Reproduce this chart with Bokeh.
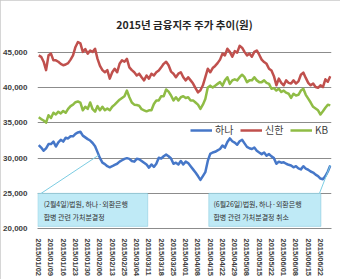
from bokeh.plotting import figure
from bokeh.models import (Range1d, FixedTicker, NumeralTickFormatter, Legend,
                          LegendItem, Label, BoxAnnotation)
from bokeh.embed import file_html
from bokeh.resources import INLINE

title_text = "2015년 금융지주 주가 추이(원)"

tick_labels = ["2015/01/02", "2015/01/09", "2015/01/16", "2015/01/23", "2015/01/30",
               "2015/02/06", "2015/02/13", "2015/02/25", "2015/03/04", "2015/03/11",
               "2015/03/18", "2015/03/25", "2015/04/01", "2015/04/08", "2015/04/15",
               "2015/04/22", "2015/04/29", "2015/05/08", "2015/05/15", "2015/05/22",
               "2015/06/01", "2015/06/08", "2015/06/15", "2015/06/22"]

series_names = ["하나", "신한", "KB"]

hana = [31860, 31500, 31050, 31400, 32000, 32000, 32350, 31650, 32250, 32600,
        32350, 32900, 32800, 33100, 33100, 33450, 33650, 33750, 33200, 32950,
        32700, 32500, 32150, 31700, 30850, 30000, 29350, 29150, 28850, 28700,
        28850, 29050, 29200, 29500, 29700, 29900, 30000, 29900, 29600, 29500,
        29900, 29850, 29600, 29350, 29100, 28650, 29100, 28750, 29200, 30050,
        29950, 30270, 30500, 30270, 29950, 29200, 29350, 29100, 29600, 29100,
        29500, 29300, 28850, 28400, 27950, 27450, 26900, 27450, 28000, 29600,
        30600, 30800, 30900, 31100, 31300, 31800, 31500, 32300, 32800, 32400,
        32200, 31900, 32400, 32600, 32100, 31600, 31400, 31300, 31500, 31050,
        30800, 30570, 30800, 30350, 30570, 30250, 30000, 29200, 29500, 29350,
        29400, 29200, 29050, 28950, 28700, 28850, 28550, 28400, 28850, 28500,
        28350, 28100, 27950, 27650, 27450, 27100, 27000, 27450, 28100, 28950]

shinhan = [44600, 44400, 43700, 42500, 44600, 44850, 43900, 43900, 43700, 43400,
           43200, 43300, 43500, 44000, 44600, 45800, 46500, 46300, 45100, 45500,
           44850, 45300, 45100, 45550, 44100, 43100, 42500, 42200, 42500, 41300,
           42200, 42700, 42200, 43400, 43900, 43700, 44100, 42900, 42500, 42200,
           41750, 42000, 41500, 41050, 41750, 41300, 42000, 41750, 42200, 42450,
           42900, 43400, 43700, 43200, 42300, 42000, 41500, 42000, 42200, 41500,
           41050, 41500, 41050, 40600, 39950, 39350, 39650, 40350, 41500, 42700,
           42200, 42800, 43100, 43500, 44000, 44850, 44600, 45550, 45100, 44400,
           45200, 45000, 45950, 45700, 45100, 44600, 44850, 44400, 45100, 45300,
           44700, 44000, 43650, 43400, 42700, 42450, 41650, 40350, 41300, 40700,
           40350, 41050, 40700, 40600, 41050, 40600, 40900, 41850, 42150, 41400,
           40700, 40350, 40600, 40100, 40000, 40350, 40100, 41200, 40850, 41650]

kb = [35800, 35550, 35350, 35050, 36100, 35700, 36450, 36200, 36600, 36350,
      36700, 36450, 37000, 37400, 37600, 37950, 38050, 37900, 36800, 37300,
      37000, 37900, 36950, 36600, 37400, 36800, 37300, 36800, 37050, 36800,
      37300, 37600, 37950, 38300, 38550, 38800, 39600, 38650, 37900, 37600,
      37550, 37450, 36950, 36800, 36650, 36800, 36800, 37700, 38200, 38200,
      38800, 38800, 39750, 39450, 38900, 38200, 38650, 38200, 38650, 38800,
      38550, 38650, 38200, 38200, 37900, 37600, 37000, 37600, 38400, 40050,
      40300, 40050, 40300, 40550, 40800, 40300, 41050, 41500, 40550, 41050,
      41200, 41050, 41500, 41850, 41500, 40800, 41050, 41050, 41500, 41050,
      40800, 40800, 41050, 40700, 40550, 39850, 39950, 39600, 39850, 39400,
      39600, 39300, 39150, 38550, 39150, 38900, 39000, 39600, 39850, 39000,
      38450, 37900, 37300, 37050, 36800, 36200, 36650, 37150, 37600, 37500]

note1 = ["(2월4일)법원, 하나·외환은행", "합병 관련 가처분결정"]
note2 = ["(6월26일)법원, 하나·외환은행", "합병 관련 가처분결정 취소"]

n = len(hana)
xs = list(range(n))
KFONT = "Noto Sans CJK KR"

p = figure(width=340, height=279, output_backend="svg", toolbar_location=None,
           x_range=Range1d(-0.5, n - 0.5), y_range=Range1d(20000, 47000),
           min_border_left=37, min_border_right=9, min_border_top=38,
           min_border_bottom=51, background_fill_color="white",
           border_fill_color="white", outline_line_color=None)

p.title.text = title_text
p.title.align = "center"
p.title.text_font = KFONT
p.title.text_font_size = "10.5px"
p.title.text_font_style = "bold"
p.title.text_color = "#262626"
p.title.standoff = 13
p.title.offset = -14

# axes
p.yaxis.ticker = FixedTicker(ticks=[20000, 25000, 30000, 35000, 40000, 45000])
p.yaxis.formatter = NumeralTickFormatter(format="0,0")
p.yaxis.axis_line_color = None
p.yaxis.major_tick_line_color = None
p.yaxis.minor_tick_line_color = None
p.yaxis.major_label_standoff = 4
p.yaxis.major_label_text_font = "Liberation Sans"
p.yaxis.major_label_text_font_style = "bold"
p.yaxis.major_label_text_font_size = "8px"
p.yaxis.major_label_text_color = "#404040"

tick_pos = list(range(0, n, 5))[:len(tick_labels)]
p.xaxis.ticker = FixedTicker(ticks=tick_pos)
p.xaxis.major_label_overrides = {t: lab for t, lab in zip(tick_pos, tick_labels)}
p.xaxis.major_label_orientation = "vertical"
p.xaxis.axis_line_color = "#8c8c8c"
p.xaxis.major_tick_line_color = None
p.xaxis.minor_tick_line_color = None
p.xaxis.major_label_standoff = 4
p.xaxis.major_label_text_font = "Liberation Sans"
p.xaxis.major_label_text_font_style = "bold"
p.xaxis.major_label_text_font_size = "7.5px"
p.xaxis.major_label_text_color = "#404040"

p.xgrid.grid_line_color = None
p.ygrid.grid_line_color = "#8c8c8c"
p.ygrid.grid_line_width = 1

r_hana = p.line(xs, hana, line_color="#4677c8", line_width=2.5, line_join="round")
r_shin = p.line(xs, shinhan, line_color="#c0504d", line_width=2.5, line_join="round")
r_kb = p.line(xs, kb, line_color="#8fbc45", line_width=2.5, line_join="round")

legend = Legend(items=[LegendItem(label=series_names[0], renderers=[r_hana]),
                       LegendItem(label=series_names[1], renderers=[r_shin]),
                       LegendItem(label=series_names[2], renderers=[r_kb])],
                orientation="horizontal", location=(153, 91), padding=0, margin=0,
                spacing=5, label_standoff=3, glyph_width=22, glyph_height=12,
                label_height=12, border_line_color=None, background_fill_alpha=0,
                label_text_font=KFONT, label_text_font_size="10px",
                label_text_color="#404040")
p.add_layout(legend)

# callout pointers (anchored on the data)
p.segment(x0=[24.5], y0=[(hana[24] + hana[25]) / 2], x1=[1.0], y1=[25000],
          line_color="#7ccde3", line_width=1)
p.segment(x0=[n - 1], y0=[hana[-1]], x1=[114.6], y1=[25000],
          line_color="#7ccde3", line_width=1)

for left, right in [(-0.4, 44.5), (69.4, 115.2)]:
    p.add_layout(BoxAnnotation(left=left, right=right, bottom=20300, top=25000,
                               fill_color="#bfeaf6", fill_alpha=1,
                               line_color="#4aa8c8", line_width=1))

for xpos, lines in [(2.0, note1), (71.3, note2)]:
    for yv, txt in zip([23550, 21650], lines):
        p.add_layout(Label(x=xpos, y=yv, text=txt, text_baseline="middle",
                           text_font=KFONT, text_font_size="7px",
                           text_color="#333333"))

p.styles = {"outline": "1px solid #c8c8c8", "outline-offset": "-1px"}

open("out.html", "w").write(file_html(p, INLINE))
